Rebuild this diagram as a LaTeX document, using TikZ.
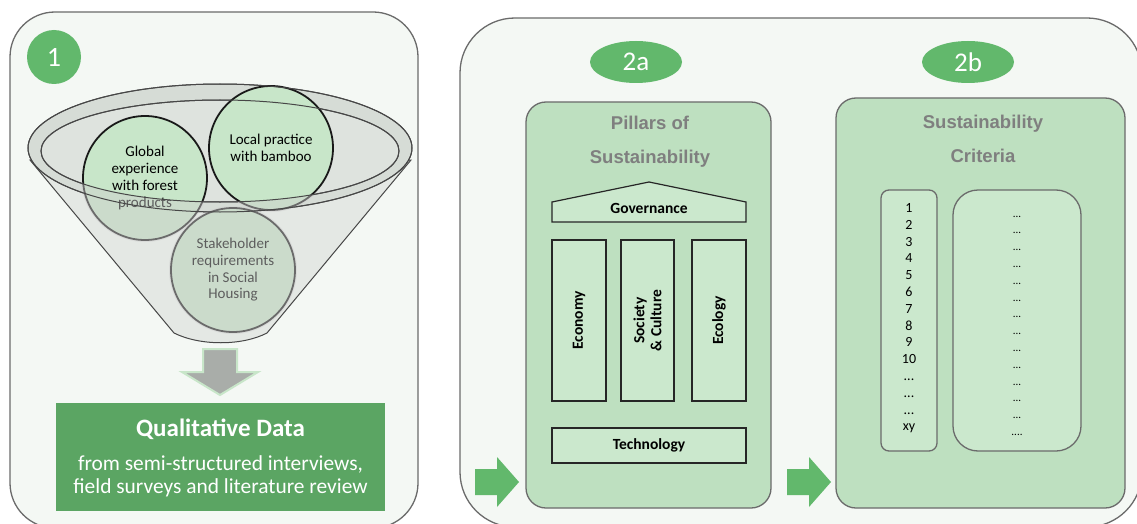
\documentclass[tikz,border=0pt]{standalone}
\usepackage{fontspec}
\setmainfont{Carlito}
\newfontfamily\arialf{Liberation Sans}
\usetikzlibrary{shapes.geometric}
\definecolor{panelfill}{HTML}{F4F8F4}
\definecolor{panelline}{HTML}{6B6B6B}
\definecolor{gbadge}{HTML}{62B86C}
\definecolor{qdgreen}{HTML}{5BA563}
\definecolor{boxfill}{HTML}{BEE0C0}
\definecolor{innerfill}{HTML}{CBE8CD}
\definecolor{titlegray}{HTML}{7F7F7F}
\definecolor{funnelfill}{HTML}{E4E8E4}
\definecolor{rimfill}{HTML}{D6DCD6}
\definecolor{innerrim}{HTML}{DEE3DE}
\definecolor{circfill}{HTML}{C8E6C9}
\definecolor{arrowgray}{HTML}{A9ADA9}
\definecolor{overlaygray}{HTML}{CFCFCF}
\newcommand\fs[2]{\fontsize{#1}{#2}\selectfont}
\newcommand\ddd{...}
\begin{document}
\begin{tikzpicture}[x=1pt,y=-1pt,
 panel/.style={draw=panelline, line width=1.3pt, fill=panelfill},
 badge/.style={circle, fill=gbadge, text=white, inner sep=0pt, minimum size=54pt, font=\fs{28}{32}},
 ebadge/.style={ellipse, fill=gbadge, text=white, inner sep=0pt, minimum width=92pt, minimum height=42pt, font=\fs{27}{30}},
 bigbox/.style={draw=panelline, line width=1.3pt, fill=boxfill, rounded corners=20pt, inner sep=0pt},
 pillar/.style={draw=black!85, line width=1.2pt, fill=innerfill, inner sep=0pt, font=\bfseries\fs{15.5}{17}},
 listbox/.style={draw=panelline, line width=1.3pt, fill=innerfill, inner sep=0pt},
 title/.style={font=\arialf\bfseries\fs{18.5}{22}, text=titlegray, anchor=base},
 circ/.style={circle, draw=black!90, line width=1.8pt, fill=circfill, inner sep=0pt, minimum size=124pt, align=center, font=\fs{15}{16.7}},
 funnelline/.style={draw=black!72, line width=1pt},
]
\useasboundingbox (0,0) rectangle (1137,524);
\fill[white] (0,0) rectangle (1137,524);

% ---------- panel 1 ----------
\draw[panel, rounded corners=45pt] (10,12) rectangle (418,528);
\node[badge] (b1) at (54,57) {1};

% funnel
\path[funnelline, fill=funnelfill] (30,160) -- (174,333) .. controls (200,346) and (242,346) .. (267,333) -- (411,160) -- cycle;
\path[funnelline, fill=rimfill] (220,148) ellipse [x radius=192pt, y radius=64pt];
\path[funnelline, fill=innerrim] (220,151) ellipse [x radius=179pt, y radius=51pt];

\node[circ] (glob) at (145,178) {Global\\experience\\with forest\\products};
\node[circ] (loc) at (271,148) {Local practice\\with bamboo};
\node[circ] (stake) at (233,270) {Stakeholder\\requirements\\in Social\\Housing};

\foreach \c in {glob,loc,stake}{
 \begin{scope}
  \clip (\c.center) circle (64pt);
  \clip (0,151) rectangle (420,524);
  \fill[overlaygray, opacity=.45, even odd rule] (0,0) rectangle (420,524) (220,151) ellipse [x radius=179pt, y radius=51pt];
 \end{scope}
}
\draw[funnelline] (220,148) ellipse [x radius=192pt, y radius=64pt];
\draw[funnelline] (220,151) ellipse [x radius=179pt, y radius=51pt];

% down arrow
\filldraw[fill=arrowgray, draw=circfill, line width=2pt] (203,349) -- (237,349) -- (237,372) -- (258,372) -- (220,395) -- (182,372) -- (203,372) -- cycle;

% qualitative data
\node[fill=qdgreen, minimum width=329pt, minimum height=108pt, inner sep=0pt] (qd) at (220.5,457) {};
\node[anchor=base, text=white, font=\bfseries\fs{25}{28}] (qdt) at (220.5,436) {Qualitative Data};
\node[anchor=base, text=white, font=\fs{21.4}{23}] (qd1) at (220.5,470) {from semi-structured interviews,};
\node[anchor=base, text=white, font=\fs{21.4}{23}] (qd2) at (220.5,493) {field surveys and literature review};

% ---------- panel 2 ----------
\draw[panel, rounded corners=55pt] (460,18) rectangle (1142,527);
\node[ebadge] (b2a) at (636,62) {2a};
\node[ebadge] (b2b) at (968,62) {2b};

\node[bigbox, minimum width=245pt, minimum height=406pt] (p2a) at (648.5,305) {};
\node[bigbox, minimum width=289pt, minimum height=410pt] (p2b) at (980.5,303) {};

\node[title] (t2a1) at (650,129.5) {Pillars of};
\node[title] (t2a2) at (650,163.5) {Sustainability};
\node[title] (t2b1) at (983,128.5) {Sustainability};
\node[title] (t2b2) at (983,162.5) {Criteria};

% temple
\draw[draw=black!85, line width=1.2pt, fill=innerfill] (552,222) -- (552,202) -- (649,182) -- (746,202) -- (746,222) -- cycle;
\node[anchor=base, font=\bfseries\fs{15.5}{17}] (gov) at (649,213) {Governance};
\node[pillar, minimum width=54pt, minimum height=161pt] (eco) at (579,320.5) {};
\node[pillar, minimum width=53pt, minimum height=161pt] (soc) at (647.5,320.5) {};
\node[pillar, minimum width=54pt, minimum height=161pt] (ecol) at (719,320.5) {};
\node[rotate=90, font=\bfseries\fs{15.5}{17}] at (eco) {Economy};
\node[rotate=90, align=center, font=\bfseries\fs{15.5}{17}] at (soc) {Society\\\& Culture};
\node[rotate=90, font=\bfseries\fs{15.5}{17}] at (ecol) {Ecology};
\node[pillar, minimum width=194pt, minimum height=35pt] (tech) at (649,445.5) {Technology};

% criteria lists
\node[listbox, rounded corners=8pt, minimum width=56pt, minimum height=261pt] (nums) at (909,320.5) {};
\node[listbox, rounded corners=25pt, minimum width=128pt, minimum height=261pt] (dots) at (1017,320.5) {};
\foreach \t [count=\i from 0] in {1,2,3,4,5,6,7,8,9,10,\ddd,\ddd,\ddd,xy}
  \node[anchor=base, font=\fs{14}{15}, inner sep=0pt] (n\i) at (909,212.5+16.8*\i) {\t};
\foreach \i in {0,...,12}
  \node[anchor=base, font=\fs{11}{13}, inner sep=0pt] (d\i) at (1017,217+16.8*\i) {\ddd};
\node[anchor=base, font=\fs{11}{13}, inner sep=0pt] (d13) at (1017,435.4) {....};

% green arrows
\fill[gbadge] (475,469) -- (497,469) -- (497,457) -- (519,482) -- (497,507) -- (497,495) -- (475,495) -- cycle;
\fill[gbadge] (787,469) -- (809,469) -- (809,457) -- (831,482) -- (809,507) -- (809,495) -- (787,495) -- cycle;
\end{tikzpicture}
\end{document}
